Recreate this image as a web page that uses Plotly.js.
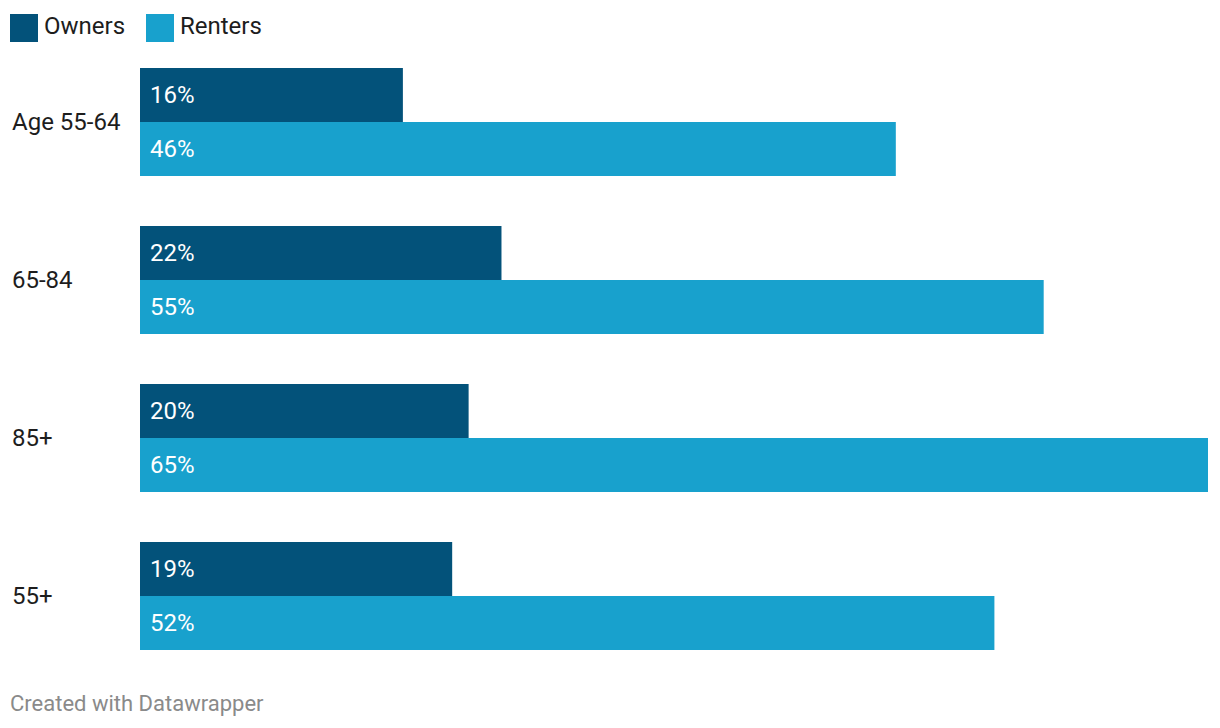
<!DOCTYPE html>
<html>
<head>
<meta charset="utf-8">
<script src="https://cdn.plot.ly/plotly-3.0.1.min.js"></script>
<style>html,body{margin:0;padding:0;background:#fff;}#chart{width:1220px;height:728px;}</style>
</head>
<body>
<div id="chart"></div>
<script>
const categories = ["Age 55-64", "65-84", "85+", "55+"];
const seriesNames = ["Owners", "Renters"];
const owners = [16, 22, 20, 19];
const renters = [46, 55, 65, 52];
const colors = ["#03527a", "#18a1cd"];

const W = 1220, H = 728;
const M = {l: 140, r: 12, t: 43, b: 53};
const pw = W - M.l - M.r, ph = H - M.t - M.b;
const px = x => (x - M.l) / pw;
const py = y => 1 - (y - M.t) / ph;
const FONT = "Roboto, 'Open Sans', sans-serif";

const values = [owners, renters];
const data = values.map((v, i) => ({
  type: "bar",
  orientation: "h",
  name: seriesNames[i],
  y: categories,
  x: v,
  marker: {color: colors[i], line: {width: 0}},
  hoverinfo: "x+y",
  showlegend: false
}));

const annotations = [];
const shapes = [];
// value labels inside bars
values.forEach((v, i) => {
  v.forEach((val, j) => {
    annotations.push({
      xref: "x", yref: "y", x: 0, y: categories[j],
      xanchor: "left", yanchor: "middle", xshift: 8,
      yshift: i === 0 ? 27 : -27,
      text: val + "%", showarrow: false,
      font: {family: FONT, size: 24, color: "#ffffff"}
    });
  });
});
// category labels, left aligned
categories.forEach(c => {
  annotations.push({
    xref: "paper", yref: "y", x: px(10), y: c,
    xanchor: "left", yanchor: "middle",
    text: c, showarrow: false,
    font: {family: FONT, size: 24, color: "#1d1d1d"}
  });
});
// legend
const legendX = [10, 146];
seriesNames.forEach((n, i) => {
  shapes.push({
    type: "rect", xref: "paper", yref: "paper",
    x0: px(legendX[i]), x1: px(legendX[i] + 28),
    y0: py(42), y1: py(14),
    fillcolor: colors[i], line: {width: 0}
  });
  annotations.push({
    xref: "paper", yref: "paper",
    x: px(legendX[i] + 32), y: py(26),
    xanchor: "left", yanchor: "middle",
    text: n, showarrow: false,
    font: {family: FONT, size: 24, color: "#1d1d1d"}
  });
});
// footer
annotations.push({
  xref: "paper", yref: "paper", x: px(8), y: py(703),
  xanchor: "left", yanchor: "middle",
  text: "Created with Datawrapper", showarrow: false,
  font: {family: FONT, size: 22, color: "#8a8a8a"}
});

const layout = {
  width: W, height: H,
  margin: M,
  paper_bgcolor: "#ffffff", plot_bgcolor: "#ffffff",
  barmode: "group",
  bargap: 50 / 158,
  bargroupgap: 0,
  xaxis: {range: [0, 65], visible: false, fixedrange: true},
  yaxis: {autorange: "reversed", showticklabels: false, showgrid: false,
          zeroline: false, showline: false, ticks: "", fixedrange: true},
  annotations: annotations,
  shapes: shapes,
  font: {family: FONT}
};

Plotly.newPlot("chart", data, layout, {displayModeBar: false, staticPlot: true});
</script>
</body>
</html>
